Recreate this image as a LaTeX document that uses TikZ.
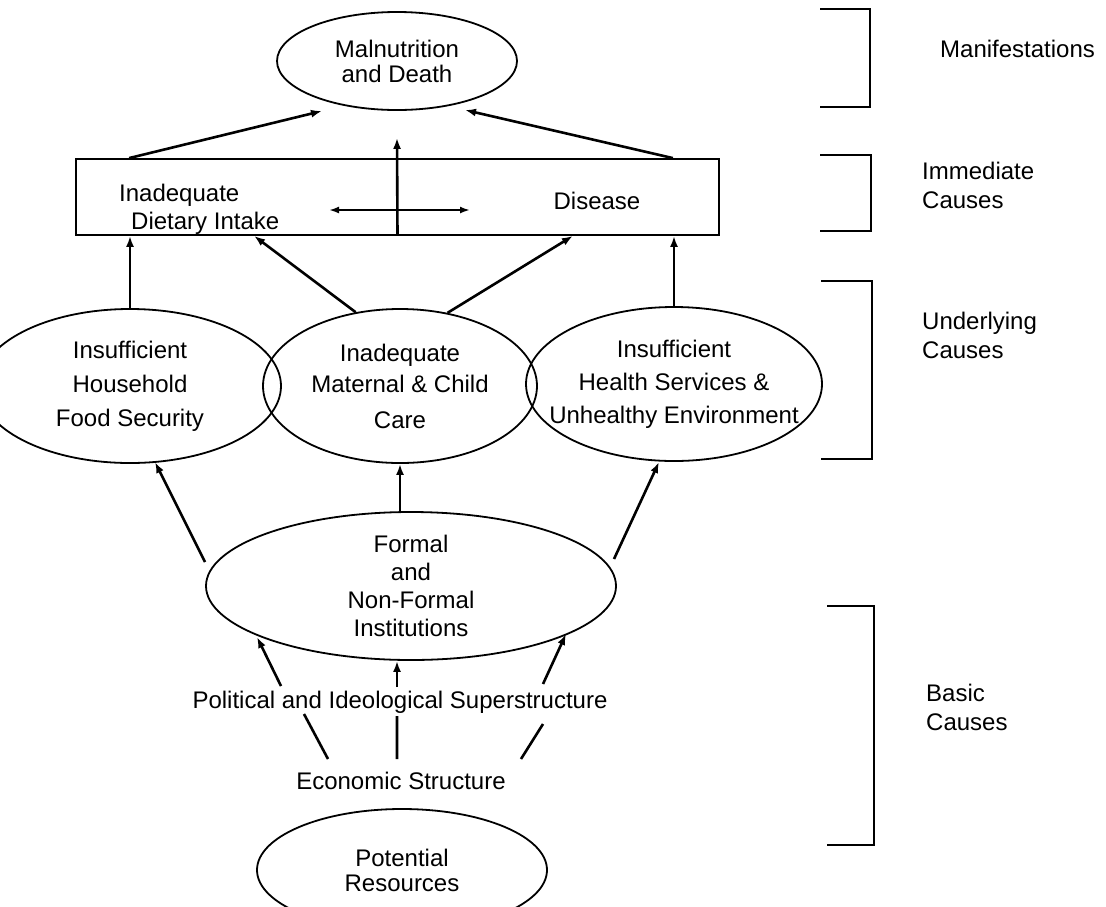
\documentclass[tikz,border=0pt]{standalone}
\usepackage{fontspec}
\setmainfont{Liberation Sans}
\usetikzlibrary{shapes.geometric,arrows.meta}

\begin{document}
\begin{tikzpicture}[x=1pt,y=-1pt,font=\fontsize{24}{29}\selectfont,
    oval/.style={ellipse,draw,line width=1.8pt,inner sep=0pt,align=center},
    arr/.style={-{Latex[length=11pt,width=8pt]},line width=2.6pt},
    darr/.style={{Latex[length=10pt,width=7pt]}-{Latex[length=10pt,width=7pt]},line width=2.2pt},
    brace/.style={line width=2.2pt},
    side/.style={anchor=west,align=left,inner sep=0pt}]
    \useasboundingbox (0,0) rectangle (1106,906);

    \node[oval,minimum width=240pt,minimum height=98pt,font=\fontsize{24}{25}\selectfont] (mal) at (397,61) {Malnutrition\\and Death};
    \node[draw,line width=1.8pt,minimum width=643pt,minimum height=76pt,inner sep=0pt] (imm) at (397.5,197) {};
    \node[side,font=\fontsize{24}{28}\selectfont] (intake) at (119,209) {Inadequate\\\hspace*{12pt}Dietary Intake};
    \node[inner sep=0pt] (dis) at (597,201) {Disease};

    \node[oval,minimum width=302pt,minimum height=154pt,font=\fontsize{24}{34}\selectfont] (food) at (130,386) {Insufficient\\Household\\Food Security};
    \node[oval,minimum width=274pt,minimum height=154pt,font=\fontsize{24}{31}\selectfont] (care) at (400,386) {Inadequate\\Maternal \& Child\\[5pt]Care};
    \node[oval,minimum width=296pt,minimum height=154pt,inner xsep=-40pt,font=\fontsize{24}{33}\selectfont] (health) at (674,384) {Insufficient\\Health Services \&\\Unhealthy Environment};

    \node[oval,minimum width=410pt,minimum height=148pt,font=\fontsize{24}{28}\selectfont] (inst) at (411,586) {Formal\\and\\Non-Formal\\Institutions};
    \node[inner sep=0pt] (pol) at (400,702) {Political and Ideological Superstructure};
    \node[inner sep=0pt] (econ) at (401,781) {Economic Structure};
    \node[oval,minimum width=290pt,minimum height=122pt,font=\fontsize{24}{25}\selectfont] (pot) at (402,870) {Potential\\Resources};

    \coordinate (m1) at (322,111);
    \coordinate (m2) at (465,110);
    \coordinate (d1) at (329,210);
    \coordinate (d2) at (470,210);
    \coordinate (a1) at (205,562);
    \coordinate (a2) at (155,462);
    \coordinate (b1) at (614,559);
    \coordinate (b2) at (659,462);
    \coordinate (c1) at (281,686);
    \coordinate (c2) at (257,637);
    \coordinate (c3) at (397,687);
    \coordinate (c5) at (543,684);
    \coordinate (c6) at (566,634);
    \coordinate (e1) at (328,759);
    \coordinate (e2) at (304,714);
    \coordinate (e3) at (397,759);
    \coordinate (e4) at (397,716);
    \coordinate (e5) at (521,759);
    \coordinate (e6) at (543,724);

    \draw[arr] ([xshift=54pt]imm.north west) -- (m1);
    \draw[arr] ([xshift=-47pt]imm.north east) -- (m2);
    \draw[arr] (imm.south) -- ([yshift=-27pt]mal.south);
    \draw[darr] (d1) -- (d2);

    \draw[arr] (food.north) -- (food.north |- imm.south);
    \draw[arr] (care.121) -- ([xshift=179pt]imm.south west);
    \draw[arr] (care.57) -- ([xshift=-147pt]imm.south east);
    \draw[arr] (health.north) -- (health.north |- imm.south);

    \draw[arr] (a1) -- (a2);
    \draw[arr] (inst.north -| care.south) -- (care.south);
    \draw[arr] (b1) -- (b2);

    \draw[arr] (c1) -- (c2);
    \draw[arr] (c3) -- (c3 |- inst.south);
    \draw[arr] (c5) -- (c6);
    \draw[line width=2.6pt] (e1) -- (e2) (e3) -- (e4) (e5) -- (e6);

    \draw[brace] (820,9) -- (870,9) -- (870,107) -- (820,107);
    \draw[brace] (820,155) -- (871,155) -- (871,231) -- (820,231);
    \draw[brace] (821,281) -- (872,281) -- (872,459) -- (821,459);
    \draw[brace] (827,606) -- (874,606) -- (874,845) -- (827,845);

    \node[side] (manif) at (940,49) {Manifestations};
    \node[side] (immc) at (922,185) {Immediate\\Causes};
    \node[side] (undc) at (922,335) {Underlying\\Causes};
    \node[side] (basc) at (926,707) {Basic\\Causes};
\end{tikzpicture}
\end{document}
